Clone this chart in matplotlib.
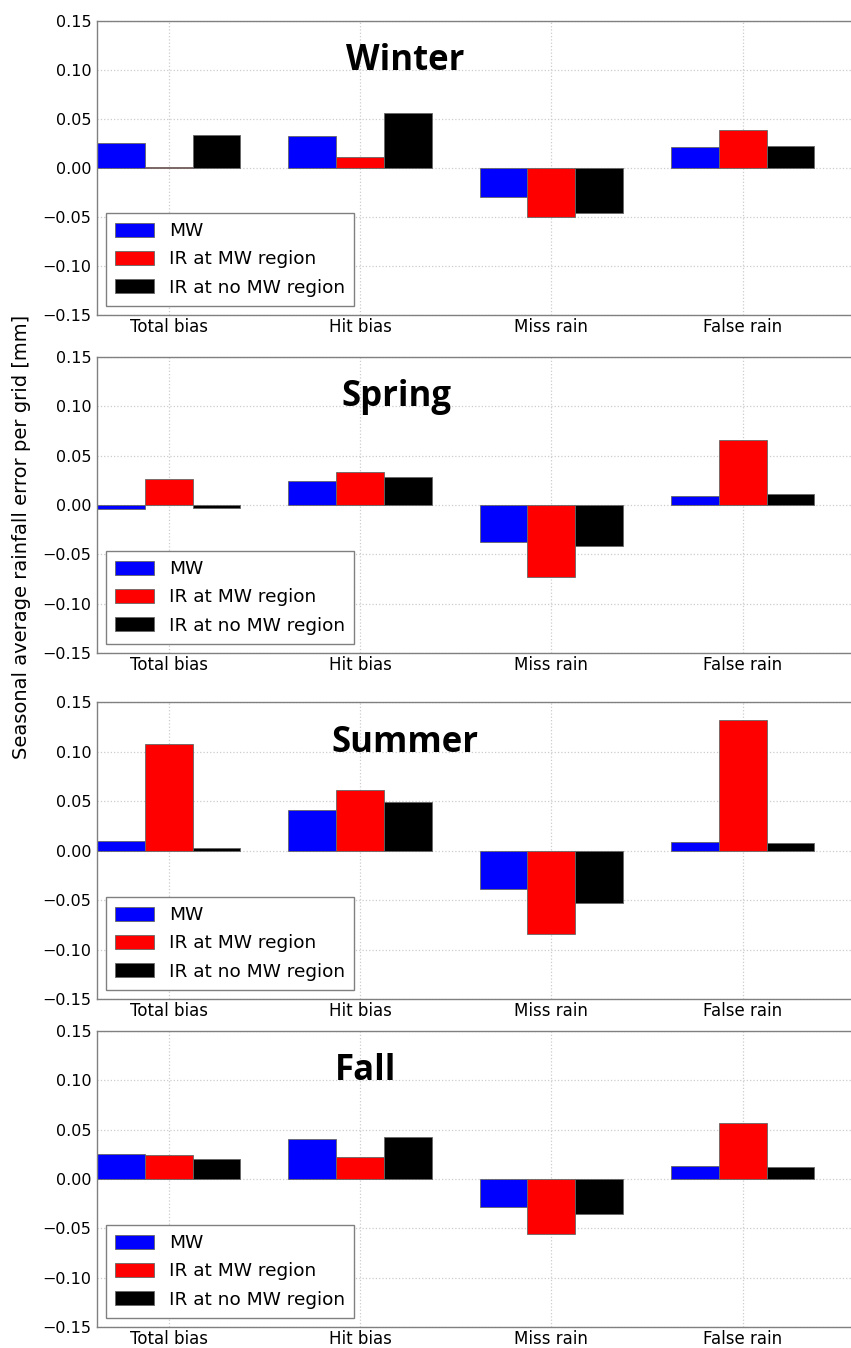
import numpy as np
import matplotlib
matplotlib.use("Agg")
import matplotlib.pyplot as plt

W, H = 851, 1348

categories = ["Total bias", "Hit bias", "Miss rain", "False rain"]
seasons = ["Winter", "Spring", "Summer", "Fall"]
series_names = ["MW", "IR at MW region", "IR at no MW region"]
colors = ["#0000ff", "#ff0000", "#000000"]

mw = [
    [0.025, 0.033, -0.0295, 0.021],
    [-0.004, 0.024, -0.037, 0.0094],
    [0.0094, 0.041, -0.0386, 0.0084],
    [0.0257, 0.041, -0.0284, 0.0135],
]
ir_mw = [
    [0.0008, 0.0116, -0.050, 0.0387],
    [0.0262, 0.033, -0.0728, 0.066],
    [0.108, 0.061, -0.0842, 0.132],
    [0.0243, 0.0226, -0.0554, 0.0571],
]
ir_nomw = [
    [0.0332, 0.0562, -0.0455, 0.0223],
    [-0.0034, 0.0282, -0.0413, 0.0111],
    [0.0027, 0.0487, -0.053, 0.0077],
    [0.0199, 0.0422, -0.0355, 0.0125],
]

# title centre x (data units) per panel
title_x = [1.236, 1.19, 1.235, 1.03]

# axes top / bottom in pixels
panels_px = [(21, 315), (357, 653), (702, 999), (1031, 1327)]

fig = plt.figure(figsize=(W / 100, H / 100), dpi=100)
plt.rcParams["font.family"] = "DejaVu Sans"

x = np.arange(len(categories))
width = 0.25
left_px = 97
unit_px = 191.3
xlim = (-0.375, 3.75)
yt = np.arange(-0.15, 0.151, 0.05)
ytl = [("%.2f" % v).replace("-0.00", "0.00").replace("-", "\u2212") for v in yt]

for i, season in enumerate(seasons):
    top, bot = panels_px[i]
    ax_w = (xlim[1] - xlim[0]) * unit_px
    ax = fig.add_axes([left_px / W, 1 - bot / H, ax_w / W, (bot - top) / H])
    ax.set_axisbelow(True)
    data = [mw[i], ir_mw[i], ir_nomw[i]]
    for k in range(3):
        ax.bar(x + (k - 1) * width, data[k], width, color=colors[k],
               edgecolor="#666666", linewidth=0.6, label=series_names[k])
    ax.set_xlim(*xlim)
    ax.set_ylim(-0.15, 0.15)
    ax.set_yticks(yt)
    ax.set_yticklabels(ytl, fontsize=11.5)
    ax.set_xticks(x)
    ax.set_xticklabels(categories, fontsize=12)
    ax.tick_params(axis="y", length=0, pad=4)
    ax.tick_params(axis="x", length=0, pad=2)
    ax.grid(True, color="#cccccc", linestyle=":", linewidth=0.9)
    for sp in ax.spines.values():
        sp.set_color("#808080")
        sp.set_linewidth(1.0)
    ax.text(title_x[i], 0.10, season, ha="center", va="baseline",
            fontsize=25, fontweight="bold", family=["Open Sans", "DejaVu Sans"])
    leg = ax.legend(loc="lower left", prop={"size": 13.3},
                    fancybox=False, framealpha=1, edgecolor="#808080",
                    handlelength=2.1, handleheight=0.75, labelspacing=0.55,
                    borderpad=0.5, handletextpad=0.8)
    leg.get_frame().set_linewidth(1.0)

fig.text(22 / W, 1 - 537 / H, "Seasonal average rainfall error per grid [mm]",
         rotation=90, ha="center", va="center", fontsize=14)

fig.savefig("out.png", dpi=100)
